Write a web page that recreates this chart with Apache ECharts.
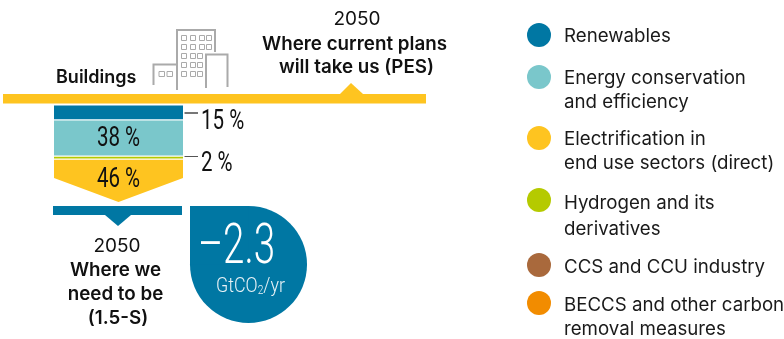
<!DOCTYPE html>
<html><head><meta charset="utf-8">
<style>html,body{margin:0;padding:0;background:#fff}#c{width:784px;height:339px}</style>
<script src="https://cdn.jsdelivr.net/npm/echarts@6/dist/echarts.min.js"></script></head>
<body><div id="c"></div>
<script>
const segmentNames = ['Renewables','Energy conservation and efficiency','Hydrogen and its derivatives','Electrification in end use sectors (direct)'];
const segmentValues = [15,38,2,46];
const segmentColors = ['#0077A3','#7AC7CB','#B5CA00','#FEC420'];
const legendLabels = [['Renewables'],['Energy conservation','and efficiency'],['Electrification in','end use sectors (direct)'],['Hydrogen and its','derivatives'],['CCS and CCU industry'],['BECCS and other carbon','removal measures']];
const legendColors = ['#0077A3','#7AC7CB','#FEC420','#B5CA00','#A9693C','#F28C00'];
const reductionLabel = '-2.3';

const legendCircleY = [35,77,138,200,265,303];
const legendTextY = [[36],[78,102],[139,163],[203,229],[267],[305,329]];
const SANS = 'Inter, "Open Sans", sans-serif';
const NARROW = 'Roboto, "Liberation Sans", sans-serif';
const DARK = '#111';

const g = [];
function txt(x,y,t,o,extra){g.push(Object.assign({type:'text',x,y,silent:true,style:Object.assign({text:t,fill:DARK,font:'400 18px '+SANS,textAlign:'center',textVerticalAlign:'middle'},o||{})},extra||{}));}
function poly(pts,fill){g.push({type:'polygon',silent:true,shape:{points:pts},style:{fill}});}
function rect(x,y,w,h,fill){g.push({type:'rect',silent:true,shape:{x,y,width:w,height:h},style:{fill}});}
function pl(pts,w,c){g.push({type:'polyline',silent:true,shape:{points:pts},style:{stroke:c||'#aaa',lineWidth:w||2,fill:null}});}

// top band and marker
rect(3,94,423,9.5,'#FEC420');
poly([[340,94],[351,83],[363,94]],'#FEC420');
// bottom band and marker
rect(53,206,129,9,'#0077A3');
poly([[105,215],[131,215],[118,226]],'#0077A3');

// texts
const HEAD='600 18.8px '+SANS, YEAR='400 19px '+SANS;
txt(56,78,'Buildings',{font:'600 18px '+SANS,textAlign:'left'});
txt(357,19,'2050',{font:YEAR});
txt(354.5,44,'Where current plans',{font:HEAD});
txt(356.5,67,'will take us (PES)',{font:HEAD});
txt(117,246,'2050',{font:YEAR});
txt(115.5,270,'Where we',{font:HEAD});
txt(115.5,294,'need to be',{font:HEAD});
txt(118,318,'(1.5-S)',{font:HEAD});

// building icon
pl([[177,90],[177,30],[215,30],[215,52]]);
pl([[206,88],[206,54.5],[227.5,54.5],[227.5,87]]);
pl([[153.5,85],[153.5,64.5],[176,64.5]]);
const rows=[36,45,54,63,72], cols=[[182,191,200,207],[182,191,200,207],[182,191,198],[182,191,198],[182,191,198]];
rows.forEach((y,i)=>cols[i].forEach(x=>g.push({type:'rect',silent:true,shape:{x:x-.5,y:y-.5,width:5,height:5},style:{fill:null,stroke:'#aaa',lineWidth:1}})));
[159,167].forEach(x=>g.push({type:'rect',silent:true,shape:{x,y:71.5,width:5.5,height:5},style:{fill:null,stroke:'#aaa',lineWidth:1}}));

// drop
g.push({type:'circle',silent:true,shape:{cx:248.5,cy:264.5,r:58.5},style:{fill:'#0077A3'}});
rect(190,206,58.5,58.5,'#0077A3');
txt(236.5,249,reductionLabel.replace('-','\u2013'),{fill:'#fff',font:'300 55px '+NARROW},{scaleX:0.7});
g.push({type:'text',x:250.5,y:287,scaleX:0.85,silent:true,style:{text:'{a|GtCO}{b|2}{a|/yr}',textAlign:'center',textVerticalAlign:'middle',rich:{a:{fill:'#e8f2f6',font:'300 21px '+NARROW},b:{fill:'#e8f2f6',font:'300 12px '+NARROW,padding:[7,0,0,0]}}}});

// legend
legendLabels.forEach((lines,i)=>{
  g.push({type:'circle',silent:true,shape:{cx:539,cy:legendCircleY[i],r:12},style:{fill:legendColors[i]}});
  lines.forEach((l,j)=>txt(564,legendTextY[i][j],l,{font:'400 18.7px '+SANS,textAlign:'left',fill:'#1a1a1a'}));
});

// stacked column, drawn through the hidden axes
const starts=[]; segmentValues.reduce((a,v,i)=>(starts[i]=a,a+v),0);
const GAP=1.2, SHOULDER=24;
function seriesFor(i){
  return {type:'custom',name:segmentNames[i],coordinateSystem:'cartesian2d',silent:true,
    data:[[starts[i],starts[i]+segmentValues[i],segmentValues[i]]],
    encode:{y:[0,1]},
    renderItem(p,api){
      const a=api.coord([0,api.value(0)]), b=api.coord([1,api.value(1)]);
      const x0=a[0],x1=b[0],y0=a[1]+i*GAP,y1=b[1]+i*GAP, mx=(x0+x1)/2, v=api.value(2);
      const kids=[];
      if(i===3){
        kids.push({type:'polygon',shape:{points:[[x0,y0],[x1,y0],[x1,y1-SHOULDER],[mx,y1],[x0,y1-SHOULDER]]},style:{fill:segmentColors[i]}});
      } else {
        kids.push({type:'rect',shape:{x:x0,y:y0,width:x1-x0,height:y1-y0},style:{fill:segmentColors[i]}});
      }
      const font='400 27px '+NARROW;
      if(i===1||i===3){
        kids.push({type:'text',x:mx,y:i===3?y0+21:(y0+y1)/2+1,scaleX:0.76,style:{text:v+' %',fill:DARK,font,textAlign:'center',textVerticalAlign:'middle'}});
      } else {
        const ly=i===0?113:156.5;
        kids.push({type:'line',shape:{x1:x1+1.5,y1:ly,x2:x1+15,y2:ly},style:{stroke:i===0?'#777':'#555',lineWidth:i===0?2:1}});
        kids.push({type:'text',x:x1+18,y:i===0?122:164,scaleX:0.76,style:{text:v+' %',fill:DARK,font,textAlign:'left',textVerticalAlign:'middle'}});
      }
      return {type:'group',children:kids};
    }};
}
const chart=echarts.init(document.getElementById('c'),null,{renderer:'canvas'});
chart.setOption({
  animation:false,backgroundColor:'#fff',
  grid:{left:54,top:105.5,width:129,height:93},
  xAxis:{type:'value',min:0,max:1,show:false},
  yAxis:{type:'value',min:0,max:101,inverse:true,show:false},
  series:segmentValues.map((_,i)=>seriesFor(i)),
  graphic:{elements:g}
});
</script></body></html>
